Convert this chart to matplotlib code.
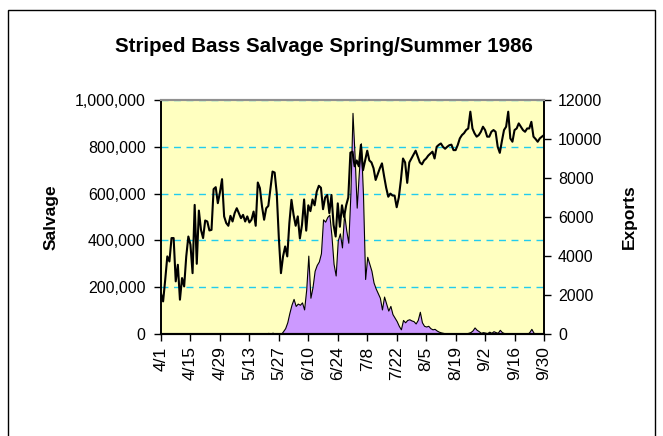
import numpy as np
import matplotlib
matplotlib.use("Agg")
import matplotlib.pyplot as plt
from matplotlib.patches import Rectangle

plt.rcParams['font.family'] = ['Liberation Sans', 'DejaVu Sans']

# Datos diarios 4/1 - 9/30 (1986)
salvage = [0] * 51 + [
    5000, 0, 6000, 0, 4000, 0, 0, 12000, 25000, 50000,
    90000, 125000, 150000, 120000, 130000, 125000, 135000, 105000, 190000, 335000,
    155000, 200000, 270000, 295000, 310000, 345000, 490000, 480000, 500000, 510000,
    420000, 300000, 250000, 400000, 430000, 370000, 515000, 445000, 390000, 600000,
    945000, 760000, 540000, 690000, 815000, 590000, 235000, 330000, 300000, 270000,
    220000, 195000, 175000, 155000, 105000, 160000, 130000, 100000, 120000, 85000,
    70000, 55000, 35000, 20000, 60000, 50000, 60000, 63000, 58000, 55000,
    45000, 60000, 95000, 50000, 35000, 32000, 35000, 25000, 20000, 22000,
    15000, 10000, 7000, 5000, 3000, 2000, 2000, 1000, 2000, 2000,
    1000, 2000, 2000, 2000, 3000, 5000, 8000, 15000, 28000, 18000,
    12000, 5000, 8000, 6000, 4000, 10000, 5000, 12000, 8000, 5000,
    18000, 8000, 4000, 3000, 2000, 3000, 2000, 1000, 0, 0,
    0, 2000, 0, 0, 8000, 22000, 6000, 0, 0, 0,
    0, 0]

exports = [
    2070, 1670, 2780, 3980, 3720, 4920, 4920, 2700, 3550, 1760,
    2870, 2440, 3980, 5000, 4580, 3120, 6620, 3600, 6330, 5340,
    4920, 5820, 5770, 5310, 5340, 7430, 7530, 6710, 7260, 7940,
    6030, 5690, 5550, 6060, 5770, 6200, 6450, 6200, 5940, 6110,
    5770, 6030, 5720, 5860, 6280, 5550, 7770, 7480, 6540, 5860,
    6450, 6570, 7430, 8330, 8280, 7220, 4920, 3120, 3980, 4490,
    3980, 5690, 6880, 6110, 5550, 6030, 4900, 5600, 6900, 5300,
    6600, 6300, 6900, 6600, 7300, 7600, 7500, 6400, 7000, 7130,
    6200, 7130, 5600, 5000, 6700, 5500, 6600, 6000, 6600, 7000,
    9300, 9350, 8600, 8900, 8600, 9700, 8400, 8900, 9400, 8900,
    8800, 8500, 7900, 8200, 8500, 8750, 8100, 7500, 7040, 7200,
    7100, 7100, 6500, 7000, 7900, 9000, 8800, 7750, 8800, 9000,
    9200, 9400, 9100, 8800, 8700, 8900, 9000, 9150, 9250, 9350,
    9000, 9600, 9700, 9770, 9600, 9500, 9600, 9680, 9710, 9430,
    9430, 9690, 10030, 10200, 10300, 10460, 10540, 11400, 10540, 10290,
    10120, 10200, 10370, 10630, 10460, 10120, 10120, 10370, 10460, 10370,
    9600, 9290, 9900, 10460, 10630, 11400, 10030, 9860, 10460, 10540,
    10800, 10630, 10460, 10370, 10540, 10540, 10880, 10120, 10000, 9860,
    10030, 10120, 10200]

tick_labels = ["4/1", "4/15", "4/29", "5/13", "5/27", "6/10", "6/24",
               "7/8", "7/22", "8/5", "8/19", "9/2", "9/16", "9/30"]

dias = np.arange(len(exports))

fig = plt.figure(figsize=(6.63, 4.36), dpi=100)
ax = fig.add_axes([161 / 663, 1 - 334 / 436, 383 / 663, 234 / 436])
ax.set_facecolor("#FFFFC0")

ax.fill_between(dias, salvage, 0, facecolor="#CC99FF", edgecolor="black",
                linewidth=0.8, zorder=2)
ax.set_xlim(0, len(dias) - 1)
ax.set_ylim(0, 1000000)
ax.set_yticks(np.arange(0, 1000001, 200000))
ax.set_yticklabels([f"{v:,}" for v in range(0, 1000001, 200000)])
ax.set_xticks(np.arange(0, len(dias), 14))
ax.set_xticklabels(tick_labels, rotation=90)
ax.yaxis.grid(True, color="#22CCEE", linestyle=(0, (5, 4)), linewidth=1)
ax.tick_params(axis="y", labelsize=11.5, direction="out", length=5, width=1, pad=6)
ax.tick_params(axis="x", labelsize=12.5, direction="out", length=5, width=1, pad=4)
ax.set_ylabel("Salvage", fontsize=12.5, fontweight="bold", labelpad=12)

ax2 = ax.twinx()
ax2.plot(dias, exports, color="black", linewidth=1.5, zorder=3)
ax2.set_ylim(0, 12000)
ax2.set_yticks(np.arange(0, 12001, 2000))
ax2.tick_params(labelsize=11.5, direction="out", length=5, width=1, pad=5)
ax2.set_ylabel("Exports", fontsize=12.5, fontweight="bold", labelpad=14)

for a in (ax, ax2):
    a.spines["top"].set_color("#909090")
    a.spines["top"].set_linewidth(1.5)
    a.spines["left"].set_linewidth(1.2)
    a.spines["right"].set_linewidth(1.2)
    a.spines["bottom"].set_linewidth(1.5)

fig.text(324 / 663, 1 - 47 / 436, "Striped Bass Salvage Spring/Summer 1986",
         ha="center", va="center", fontsize=14.8, fontweight="bold")

fig.add_artist(Rectangle((8 / 663, -0.1), 647 / 663, 1.1 - 10 / 436,
                         transform=fig.transFigure, fill=False,
                         edgecolor="black", linewidth=1))

fig.savefig("out.png", dpi=100)
